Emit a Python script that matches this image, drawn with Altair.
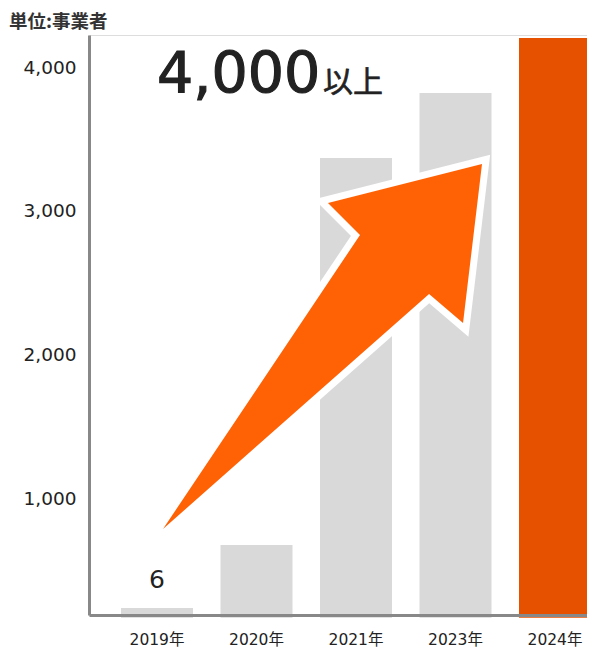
import altair as alt
import pandas as pd

# ---- data ----
YEARS = ["2019年", "2020年", "2021年", "2023年", "2024年"]
BAR_VALUES = [235, 673, 3367, 3819, 4202]      # bar heights as drawn
BAR_LABELS = ["6", "", "", "", ""]
Y_TICKS = [1000, 2000, 3000, 4000]
HIGHLIGHT = "2024年"
UNIT_TITLE = ["単位:事業者"]
HEADLINE_NUMBER = ["4,000"]
HEADLINE_SUFFIX = ["以上"]

# ---- style ----
Y_DOMAIN = [186, 4223]
BAR_FLOOR = 166
GRAY = "#D9D9D9"
ORANGE_BAR = "#E65100"
ORANGE_ARROW = "#FF6205"
AXIS_GRAY = "#888888"
TEXT = "#222222"
LATIN = "DejaVu Sans, Noto Sans CJK JP"
CJK = "Noto Sans CJK JP"
W, H = 498, 580

ARROW_PATH = ("M -0.874 1 L 0.2055 -0.611 L 0.0301 -0.786 L 0.874 -1 "
              "L 0.770 -0.129 L 0.584 -0.288 Z")
ARROW_SIZE = 365 * 365

bars_df = pd.DataFrame({"year": YEARS, "value": BAR_VALUES, "label": BAR_LABELS})
head_df = pd.DataFrame({"num": HEADLINE_NUMBER, "suffix": HEADLINE_SUFFIX, "unit": UNIT_TITLE})

x = alt.X(
    "year:N", sort=YEARS,
    scale=alt.Scale(range=[0, 534], paddingInner=0.2764, paddingOuter=0.3216),
    axis=alt.Axis(title=None, labelAngle=0, ticks=False, tickSize=0, labelPadding=24,
                  labelBaseline="middle", labelFont=LATIN, labelFontSize=15.5,
                  labelColor=TEXT, domainColor=AXIS_GRAY, domainWidth=3, zindex=1),
)
y = alt.Y(
    "value:Q",
    scale=alt.Scale(domain=Y_DOMAIN, nice=False, zero=False),
    axis=alt.Axis(values=Y_TICKS, labelExpr="format(datum.value, ',')", grid=False,
                  ticks=False, tickSize=0, title=None,
                  labelPadding=13, labelFont=LATIN, labelFontSize=18.5, labelColor=TEXT,
                  domainColor=AXIS_GRAY, domainWidth=3, zindex=1),
)

base = alt.Chart(bars_df).encode(x=x, y=y)
bars = base.mark_bar().encode(
    y2=alt.datum(BAR_FLOOR),
    color=alt.condition(alt.datum.year == HIGHLIGHT, alt.value(ORANGE_BAR), alt.value(GRAY)),
)
labels = base.mark_text(font=LATIN, fontSize=25, color=TEXT, baseline="alphabetic", dy=-20).encode(
    text="label:N"
)

arrow_outline = alt.Chart(head_df).mark_point(
    shape=ARROW_PATH, size=ARROW_SIZE, filled=True, fill=ORANGE_ARROW, stroke="white",
    strokeWidth=14, strokeJoin="miter", opacity=1,
).encode(x=alt.value(233.5), y=alt.value(311.5))
arrow_fill = alt.Chart(head_df).mark_point(
    shape=ARROW_PATH, size=ARROW_SIZE, filled=True, fill=ORANGE_ARROW, opacity=1,
).encode(x=alt.value(233.5), y=alt.value(311.5))

unit = alt.Chart(head_df).mark_text(
    font=CJK, fontSize=18.5, fontWeight="bold", color="#333333",
    align="left", baseline="middle"
).encode(x=alt.value(-80), y=alt.value(-13), text="unit:N")

num = alt.Chart(head_df).mark_text(
    font=LATIN, fontSize=57, color=TEXT, stroke=TEXT, strokeWidth=1.2,
    align="left", baseline="alphabetic"
).encode(x=alt.value(68), y=alt.value(58), text="num:N")
suffix = alt.Chart(head_df).mark_text(
    font=CJK, fontSize=30, color=TEXT, stroke=TEXT, strokeWidth=0.6,
    align="left", baseline="alphabetic"
).encode(x=alt.value(234), y=alt.value(57), text="suffix:N")

chart = alt.layer(bars, labels, arrow_outline, arrow_fill, unit, num, suffix).properties(
    width=W, height=H,
    autosize=alt.AutoSizeParams(type="none"),
    padding={"left": 81, "top": 27, "right": 0, "bottom": 34},
).configure_view(stroke=None).configure(background="white")

chart.save("out.html", embed_options={"renderer": "svg", "actions": False})
